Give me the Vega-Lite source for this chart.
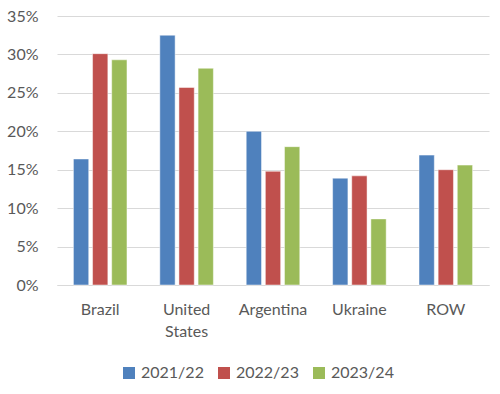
{
  "$schema": "https://vega.github.io/schema/vega-lite/v6.json",
  "width": 432,
  "height": 269,
  "autosize": {"type": "none"},
  "padding": {"left": 57, "top": 16, "right": 11, "bottom": 109},
  "background": "white",
  "config": {
    "view": {"stroke": null},
    "font": "Lato",
    "axis": {"labelFont": "Lato", "labelColor": "#595959", "labelFontSize": 16},
    "legend": {"labelFont": "Lato", "labelColor": "#595959", "labelFontSize": 16}
  },
  "data": {
    "values": [
      {"country": "Brazil", "year": "2021/22", "share": 0.164},
      {"country": "Brazil", "year": "2022/23", "share": 0.301},
      {"country": "Brazil", "year": "2023/24", "share": 0.293},
      {"country": "United States", "year": "2021/22", "share": 0.325},
      {"country": "United States", "year": "2022/23", "share": 0.257},
      {"country": "United States", "year": "2023/24", "share": 0.282},
      {"country": "Argentina", "year": "2021/22", "share": 0.200},
      {"country": "Argentina", "year": "2022/23", "share": 0.148},
      {"country": "Argentina", "year": "2023/24", "share": 0.180},
      {"country": "Ukraine", "year": "2021/22", "share": 0.139},
      {"country": "Ukraine", "year": "2022/23", "share": 0.142},
      {"country": "Ukraine", "year": "2023/24", "share": 0.086},
      {"country": "ROW", "year": "2021/22", "share": 0.169},
      {"country": "ROW", "year": "2022/23", "share": 0.150},
      {"country": "ROW", "year": "2023/24", "share": 0.156}
    ]
  },
  "mark": {"type": "bar", "stroke": "white", "strokeWidth": 0.8, "strokeOpacity": 0.6},
  "encoding": {
    "x": {
      "field": "country",
      "type": "nominal",
      "sort": ["Brazil", "United States", "Argentina", "Ukraine", "ROW"],
      "scale": {"paddingInner": 0.38, "paddingOuter": 0.19},
      "axis": {
        "title": null,
        "labelAngle": 0,
        "ticks": false,
        "domain": true,
        "domainColor": "#D9D9D9",
        "labelPadding": 16,
        "labelLineHeight": 22,
        "labelExpr": "datum.label == 'United States' ? ['United', 'States'] : datum.label"
      }
    },
    "xOffset": {
      "field": "year",
      "type": "nominal",
      "scale": {"paddingInner": 0.2, "paddingOuter": 0}
    },
    "y": {
      "field": "share",
      "type": "quantitative",
      "scale": {"domain": [0, 0.35]},
      "axis": {
        "title": null,
        "format": ".0%",
        "values": [0, 0.05, 0.1, 0.15, 0.2, 0.25, 0.3, 0.35],
        "domain": false,
        "ticks": false,
        "labelPadding": 19,
        "gridColor": "#D9D9D9",
        "gridWidth": 1
      }
    },
    "color": {
      "field": "year",
      "type": "nominal",
      "scale": {"domain": ["2021/22", "2022/23", "2023/24"], "range": ["#4F81BD", "#C0504D", "#9BBB59"]},
      "legend": {
        "title": null,
        "orient": "none",
        "direction": "horizontal",
        "legendX": 64,
        "legendY": 349,
        "symbolType": "square",
        "symbolSize": 144,
        "symbolStrokeWidth": 0,
        "symbolOpacity": 1,
        "labelOffset": 4,
        "columnPadding": 12
      }
    }
  }
}
